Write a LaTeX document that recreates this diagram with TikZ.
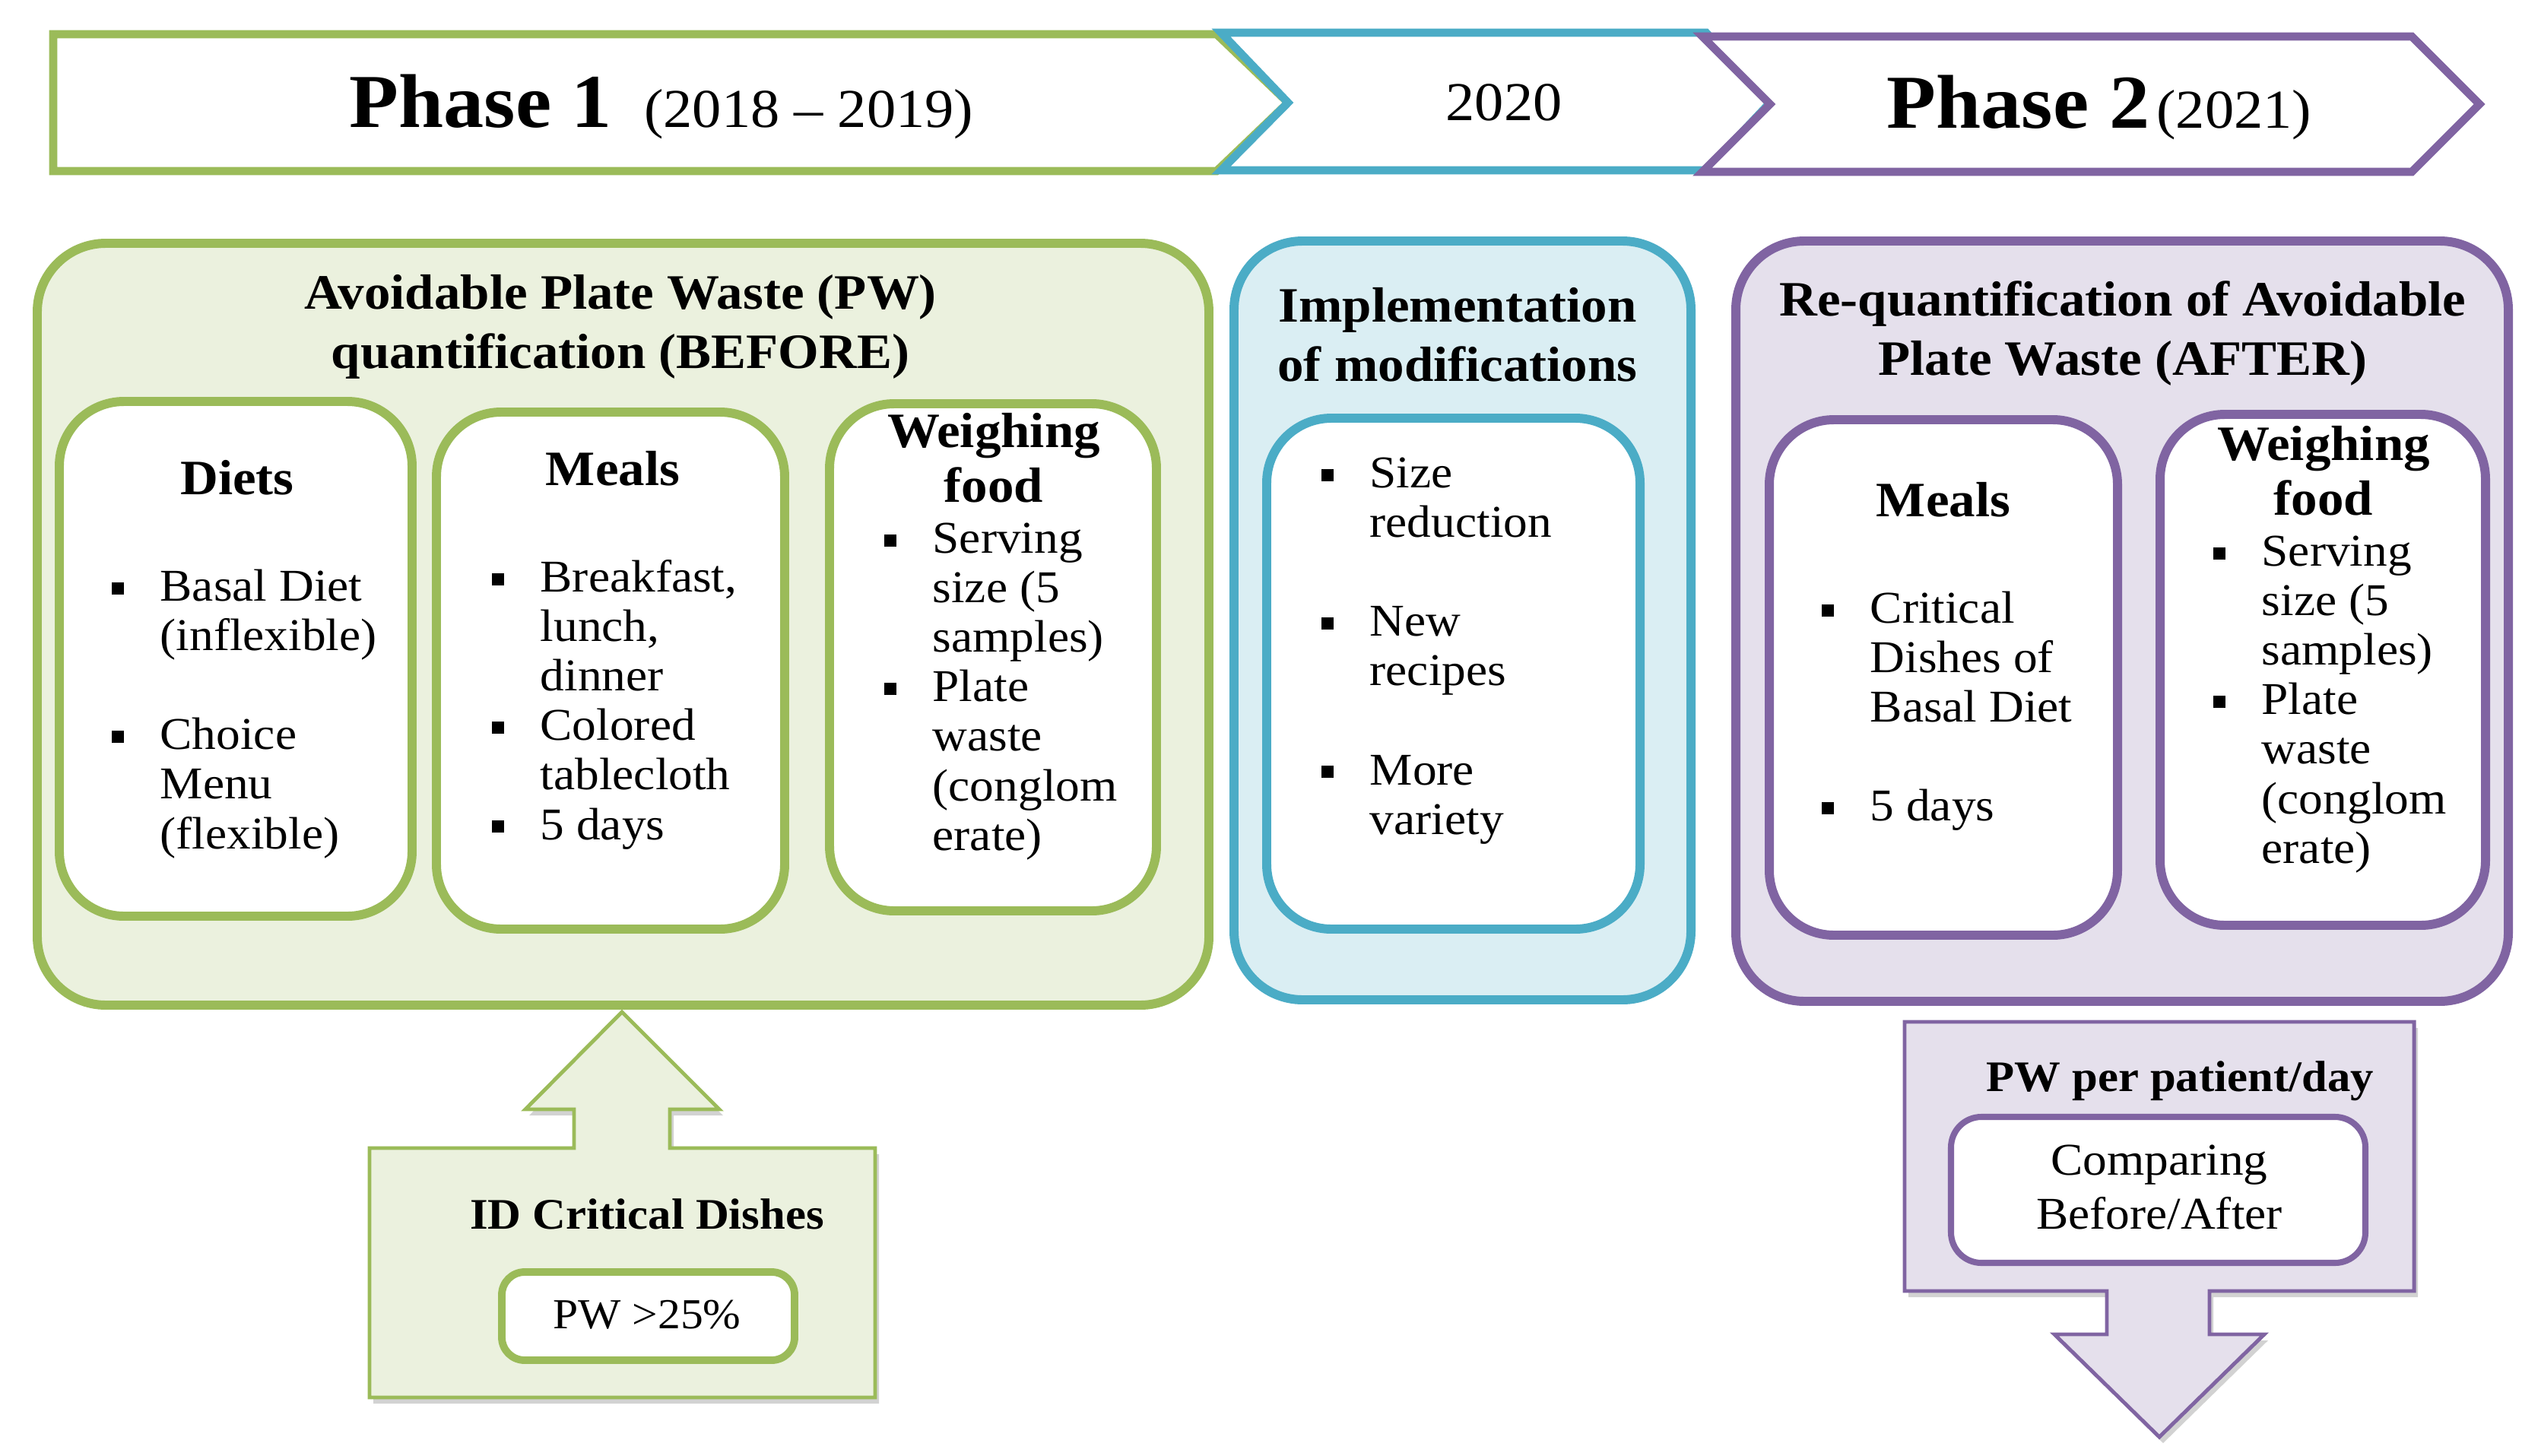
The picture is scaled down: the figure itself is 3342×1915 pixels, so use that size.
\documentclass[tikz,border=0pt]{standalone}
\usepackage{fontspec}
\setmainfont{Liberation Serif}[FakeStretch=1.06]
\usepackage{tikz}
\usetikzlibrary{shadows}
\definecolor{Before}{RGB}{155,187,89}
\definecolor{BeforeFill}{RGB}{235,241,222}
\definecolor{Change}{RGB}{75,172,198}
\definecolor{ChangeFill}{RGB}{218,238,243}
\definecolor{After}{RGB}{128,100,162}
\definecolor{AfterFill}{RGB}{229,224,236}
\newcommand{\Sq}{\makebox[18.2pt][l]{\rule[2.5pt]{4.5pt}{4.5pt}}}
\newcommand{\Ind}{\hspace*{18.2pt}}
\newcommand{\GroupBox}[5]{% x1 y1 x2 y2 colour
\draw[line width=3.4pt,rounded corners=0.9cm,draw=#5,fill=#5Fill] (#1,#2) rectangle (#3,#4);
}
\newcommand{\ItemBox}[5]{% x1 y1 x2 y2 colour
\draw[line width=3.4pt,rounded corners=0.85cm,draw=#5,fill=white] (#1,#2) rectangle (#3,#4);
}

\begin{document}
\begin{tikzpicture}[x=0.01cm,y=-0.01cm,
  chevron/.style={line width=3pt,fill=white,line join=miter},
  body/.style={font=\fontsize{17}{18.5}\selectfont,align=left,anchor=north west,inner sep=0pt},
  head/.style={font=\bfseries\fontsize{18.5}{22}\selectfont,align=center,inner sep=0pt},
  small head/.style={head,font=\bfseries\fontsize{16.3}{20}\selectfont},
  callout/.style={line width=1.4pt,drop shadow={shadow xshift=0.05cm,shadow yshift=-0.08cm,opacity=0.35}}]
\fill[white] (0,0) rectangle (3342,1915);
\useasboundingbox (0,0) rectangle (3342,1915);
% timeline
\draw[chevron,draw=Before] (70,45) -- (1600,45) -- (1694,135) -- (1600,225) -- (70,225) -- cycle;
\draw[chevron,draw=Change] (1606,43) -- (2244,43) -- (2328,135) -- (2244,224) -- (1606,224) -- (1694,135) -- cycle;
\draw[chevron,draw=After] (2239,48) -- (3172,48) -- (3261,137) -- (3172,226) -- (2239,226) -- (2328,137) -- cycle;
\node[anchor=base,inner sep=0pt] (phaseone) at (870,167)
  {{\bfseries\fontsize{28.5}{30}\selectfont Phase 1}\hspace{12pt}{\fontsize{20.5}{24}\selectfont (2018 – 2019)}};
\node[anchor=base,inner sep=0pt,font=\fontsize{20.5}{24}\selectfont] (year) at (1978,158) {2020};
\node[anchor=base,inner sep=0pt] (phasetwo) at (2761,168)
  {{\bfseries\fontsize{28.5}{30}\selectfont Phase 2} {\fontsize{20.5}{24}\selectfont (2021)}};
% phase 1 block
\GroupBox{49}{320}{1590}{1322}{Before}
\node[head,anchor=north] (pwbefore) at (816,352) {\strut Avoidable Plate Waste (PW)\\quantification (BEFORE)};
\ItemBox{78}{528}{542}{1205}{Before}
\ItemBox{574}{542}{1032}{1222}{Before}
\ItemBox{1091}{531}{1521}{1198}{Before}
\node[head,anchor=base] (diets) at (312,650) {Diets};
\node[body] (dietlist) at (146,744.5) {\strut\Sq Basal Diet\\\Ind(inflexible)\\[18.5pt]\Sq Choice\\\Ind Menu\\\Ind(flexible)};
\node[head,anchor=base] (mealsA) at (806,638) {Meals};
\node[body] (meallistA) at (646,732.5) {\strut\Sq Breakfast,\\\Ind lunch,\\\Ind dinner\\\Sq Colored\\\Ind tablecloth\\\Sq 5 days};
\node[head,anchor=north,font=\bfseries\fontsize{18.5}{20.5}\selectfont] (weighA) at (1307,537) {\strut Weighing\\food};
\node[body] (weighlistA) at (1162,681.5) {\strut\Sq Serving\\\Ind size (5\\\Ind samples)\\\Sq Plate\\\Ind waste\\\Ind(conglom\\\Ind erate)};
% 2020 block
\GroupBox{1623}{317}{2224}{1315}{Change}
\node[head,anchor=north] (modif) at (1917,369) {\strut Implementation\\of modifications};
\ItemBox{1666}{550}{2157}{1222}{Change}
\node[body] (modiflist) at (1737,595.5) {\strut\Sq Size\\\Ind reduction\\[18.5pt]\Sq New\\\Ind recipes\\[18.5pt]\Sq More\\\Ind variety};
% phase 2 block
\GroupBox{2283}{317}{3299}{1317}{After}
\node[head,anchor=north] (pwafter) at (2792,361) {\strut Re-quantification of Avoidable\\Plate Waste (AFTER)};
\ItemBox{2327}{552}{2785}{1230}{After}
\ItemBox{2841}{545}{3269}{1217}{After}
\node[head,anchor=base] (mealsB) at (2556,679) {Meals};
\node[body] (meallistB) at (2395,773.5) {\strut\Sq Critical\\\Ind Dishes of\\\Ind Basal Diet\\[18.5pt]\Sq 5 days};
\node[head,anchor=north,font=\bfseries\fontsize{18.5}{20.5}\selectfont] (weighB) at (3056,554) {\strut Weighing\\food};
\node[body] (weighlistB) at (2910,698.5) {\strut\Sq Serving\\\Ind size (5\\\Ind samples)\\\Sq Plate\\\Ind waste\\\Ind(conglom\\\Ind erate)};
% critical dishes callout
\draw[callout,draw=Before,fill=BeforeFill] (486,1510) -- (755,1510) -- (755,1459) -- (691,1459) -- (818,1331)
  -- (946,1459) -- (881,1459) -- (881,1510) -- (1151,1510) -- (1151,1838) -- (486,1838) -- cycle;
\node[small head,anchor=base] (critical) at (851,1616) {ID Critical Dishes};
\draw[line width=2.8pt,rounded corners=0.3cm,draw=Before,fill=white] (660,1673) rectangle (1045,1789);
\node[anchor=base,inner sep=0pt,font=\fontsize{16}{18.5}\selectfont] (threshold) at (851,1747) {PW >25\%};
% comparison callout
\draw[callout,draw=After,fill=AfterFill] (2505,1344) -- (3175,1344) -- (3175,1698) -- (2906,1698) -- (2906,1755)
  -- (2978,1755) -- (2840,1890) -- (2702,1755) -- (2771,1755) -- (2771,1698) -- (2505,1698) -- cycle;
\node[small head,anchor=base] (perday) at (2867,1435) {PW per patient/day};
\draw[line width=2.3pt,rounded corners=0.4cm,draw=After,fill=white] (2566,1469) rectangle (3111,1661);
\node[anchor=north,align=center,inner sep=0pt,font=\fontsize{17}{20}\selectfont] (compare) at (2840,1496) {\strut Comparing\\Before/After};
\end{tikzpicture}
\end{document}
